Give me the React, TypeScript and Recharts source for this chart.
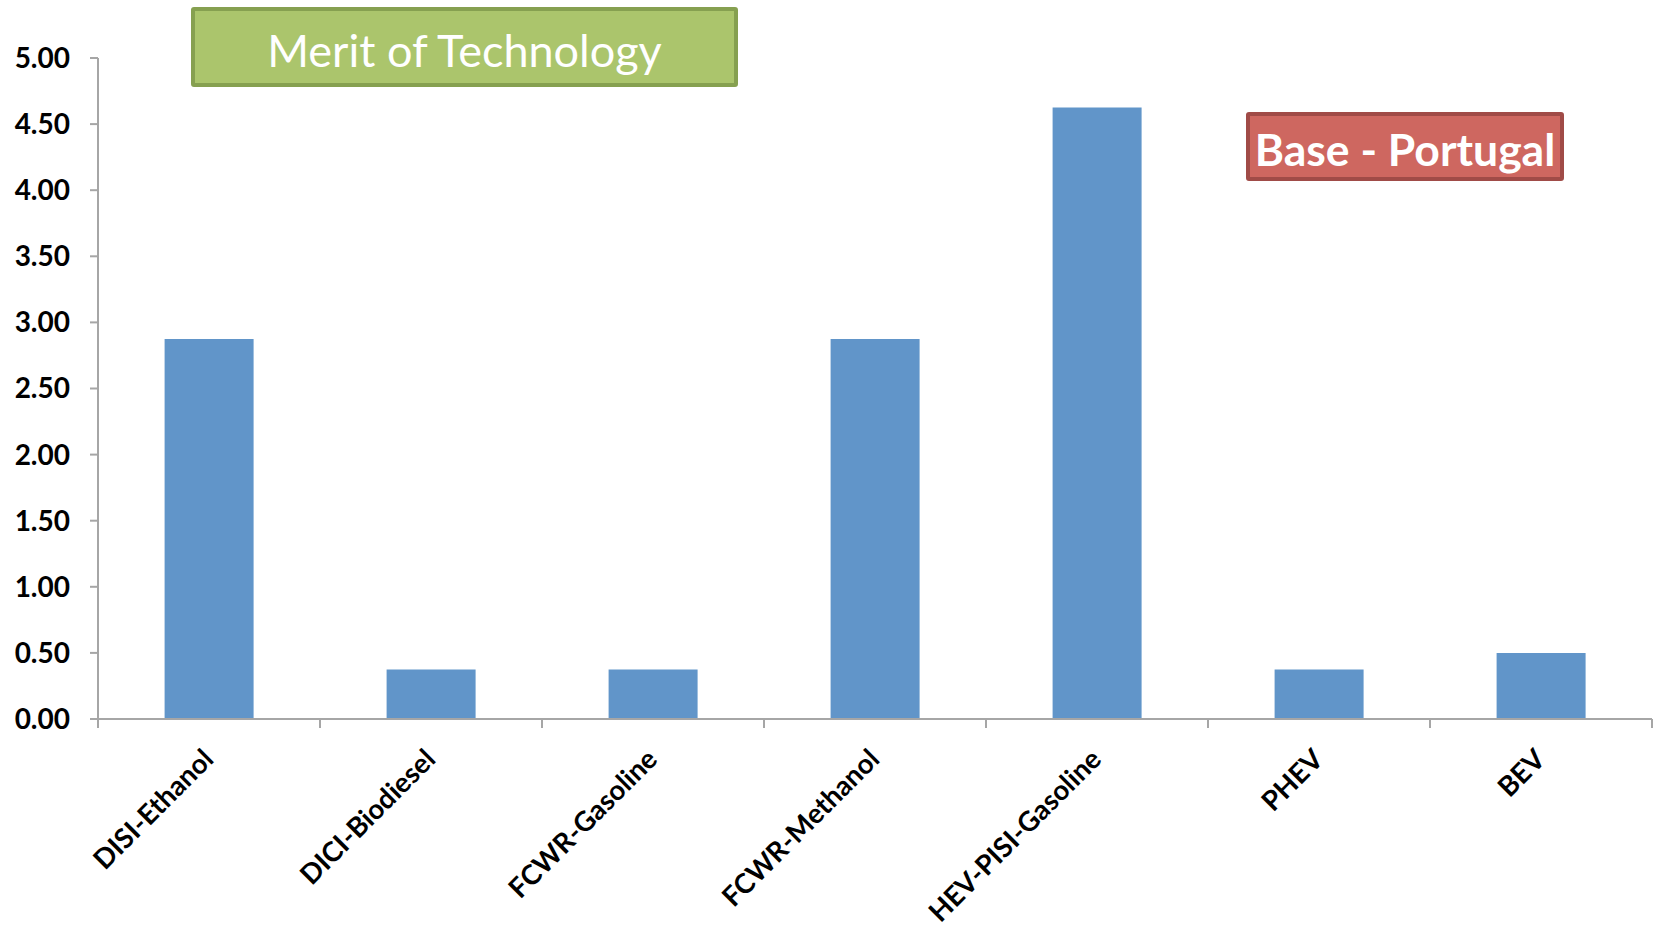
import { BarChart, Bar, XAxis, YAxis } from "recharts";

const technologies = [
  "DISI-Ethanol",
  "DICI-Biodiesel",
  "FCWR-Gasoline",
  "FCWR-Methanol",
  "HEV-PISI-Gasoline",
  "PHEV",
  "BEV",
];
const merit = [2.875, 0.375, 0.375, 2.875, 4.625, 0.375, 0.5];
const yTicks = [0, 0.5, 1, 1.5, 2, 2.5, 3, 3.5, 4, 4.5, 5];

const chartTitle = "Merit of Technology";
const scenario = "Base - Portugal";

const data = technologies.map((name, i) => ({ name, merit: merit[i] }));

const AXIS = "#A6A6A6";
const FONT = "Lato, 'Open Sans', sans-serif";

// category labels at 45deg, plus Excel-style tick marks between categories
function CategoryTick(props: any) {
  const { x, y, payload, index, visibleTicksCount } = props;
  const half = payload?.offset || 111;
  const ax = x + 6;
  const ay = y + 42;
  const isLast = index === visibleTicksCount - 1;
  return (
    <g>
      <line x1={x - half} x2={x - half} y1={y} y2={y + 9} stroke={AXIS} strokeWidth={2} />
      {isLast && (
        <line x1={x + half} x2={x + half} y1={y} y2={y + 9} stroke={AXIS} strokeWidth={2} />
      )}
      <text
        x={ax}
        y={ay}
        transform={`rotate(-45, ${ax}, ${ay})`}
        textAnchor="end"
        fontFamily={FONT}
        fontWeight={700}
        fontSize={27.5}
        fill="#000"
      >
        {payload.value}
      </text>
    </g>
  );
}

export default function App() {
  return (
    <div style={{ position: "relative", width: 1657, height: 930 }}>
      <style>{"body{margin:0}"}</style>
      <BarChart
        width={1657}
        height={930}
        data={data}
        margin={{ top: 58, right: 5, bottom: 0, left: 0 }}
        barCategoryGap="30%"
      >
        <XAxis
          dataKey="name"
          interval={0}
          height={211}
          axisLine={{ stroke: AXIS, strokeWidth: 2 }}
          tickLine={false}
          tickSize={0}
          tickMargin={0}
          tick={<CategoryTick />}
        />
        <YAxis
          domain={[0, 5]}
          ticks={yTicks}
          width={98}
          tickSize={8}
          tickMargin={20}
          tickFormatter={(v: number) => v.toFixed(2)}
          axisLine={{ stroke: AXIS, strokeWidth: 2 }}
          tickLine={{ stroke: AXIS, strokeWidth: 2 }}
          tick={{ fill: "#000", fontSize: 28, fontWeight: 700, fontFamily: FONT }}
        />
        <Bar dataKey="merit" fill="#6195C9" isAnimationActive={false} />
      </BarChart>
      <div
        style={{
          position: "absolute",
          left: 191,
          top: 7,
          width: 547,
          height: 80,
          boxSizing: "border-box",
          paddingTop: 5,
          background: "#ABC56C",
          border: "4px solid #86A050",
          borderRadius: 3,
          color: "#fff",
          fontFamily: FONT,
          fontSize: 45,
          display: "flex",
          alignItems: "center",
          justifyContent: "center",
        }}
      >
        {chartTitle}
      </div>
      <div
        style={{
          position: "absolute",
          left: 1246,
          top: 112,
          width: 318,
          height: 69,
          boxSizing: "border-box",
          paddingTop: 3,
          background: "#CE6760",
          border: "4px solid #A04B47",
          borderRadius: 3,
          color: "#fff",
          fontFamily: FONT,
          fontWeight: 700,
          fontSize: 44.5,
          display: "flex",
          alignItems: "center",
          justifyContent: "center",
          whiteSpace: "nowrap",
        }}
      >
        {scenario}
      </div>
    </div>
  );
}
